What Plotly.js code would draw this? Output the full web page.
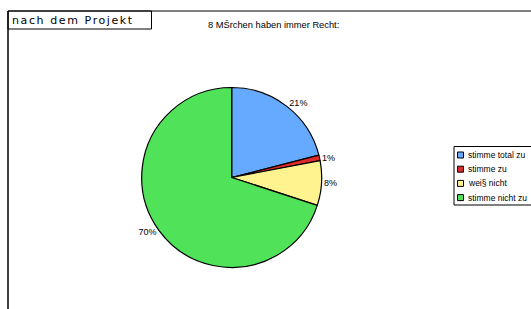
<!DOCTYPE html>
<html><head><meta charset="utf-8">
<script src="https://cdn.plot.ly/plotly-3.0.1.min.js"></script>
<style>html,body{margin:0;padding:0;background:#fff}#c{width:531px;height:309px}</style>
</head><body><div id="c"></div>
<script>
const categories = ["stimme total zu", "stimme zu", "wei§ nicht", "stimme nicht zu"];
const values = [21, 1, 8, 70];
const colors = ["#66aaff", "#dd2b2b", "#fff38f", "#50e35a"];
const chartTitle = "8 MŠrchen haben immer Recht:";
const boxLabel = "nach dem Projekt";

const W = 531, H = 309;
const px = x => x / W, py = y => 1 - y / H;

const shapes = [
  {type:'line', xref:'paper', yref:'paper', x0:px(8), x1:px(531), y0:py(11), y1:py(11), line:{color:'#000', width:1}},
  {type:'line', xref:'paper', yref:'paper', x0:px(8), x1:px(8), y0:py(11), y1:py(309), line:{color:'#000', width:1.5}},
  {type:'rect', xref:'paper', yref:'paper', x0:px(8), x1:px(151.5), y0:py(29), y1:py(11), line:{color:'#000', width:1}},
  {type:'rect', xref:'paper', yref:'paper', x0:px(454), x1:px(540), y0:py(205), y1:py(146.5), line:{color:'#000', width:1}}
];
const annotations = [
  {xref:'paper', yref:'paper', x:px(10), y:py(20), xanchor:'left', yanchor:'middle', showarrow:false,
   text:'<span style="letter-spacing:1.6px">' + boxLabel + '</span>',
   font:{family:'DejaVu Sans', size:11, color:'#000'}},
  {xref:'paper', yref:'paper', x:px(273), y:py(25), xanchor:'center', yanchor:'middle', showarrow:false, text:chartTitle,
   font:{family:'Liberation Sans, Arial', size:9.3, color:'#000'}}
];
categories.forEach((c, i) => {
  const yc = 155 + i * 14.2;
  shapes.push({type:'rect', xref:'paper', yref:'paper', x0:px(457.5), x1:px(463.5), y0:py(yc+3), y1:py(yc-3),
    fillcolor:colors[i], line:{color:'#000', width:1}});
  annotations.push({xref:'paper', yref:'paper', x:px(466), y:py(yc), xanchor:'left', yanchor:'middle', showarrow:false,
    text:c, font:{family:'Liberation Sans, Arial', size:8.5, color:'#000'}});
});

const trace = {
  type:'pie', labels:categories, values:values, sort:false, direction:'clockwise', rotation:0,
  marker:{colors:colors, line:{color:'#000', width:1.2}},
  textinfo:'percent', textposition:'outside', hoverinfo:'none',
  outsidetextfont:{family:'Liberation Sans, Arial', size:9, color:'#000'},
  domain:{x:[px(141.7), px(321.7)], y:[py(267.5), py(87.5)]},
  showlegend:false, automargin:false
};

Plotly.newPlot('c', [trace], {
  width:W, height:H, margin:{l:0, r:0, t:0, b:0},
  paper_bgcolor:'#fff', plot_bgcolor:'#fff', showlegend:false,
  shapes:shapes, annotations:annotations
}, {staticPlot:true, displayModeBar:false});
</script></body></html>
